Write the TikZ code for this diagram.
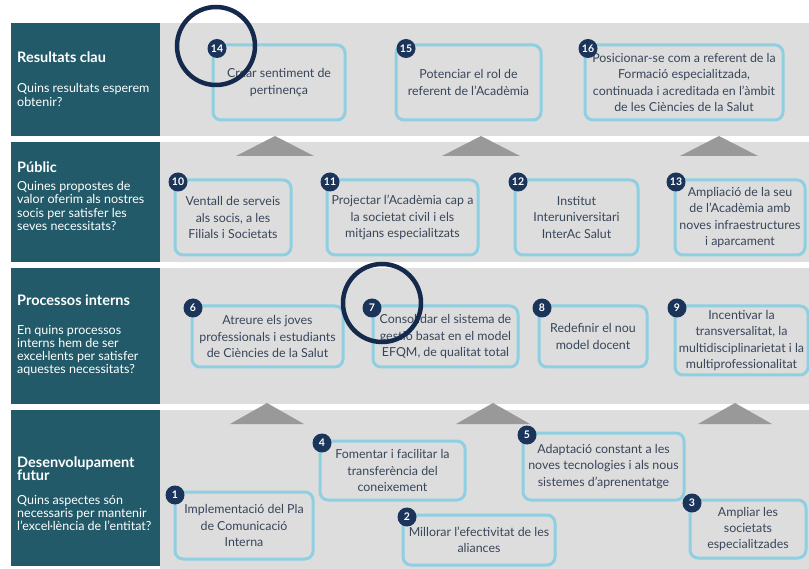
\documentclass[tikz,border=0pt]{standalone}
\usepackage{fontspec}
\setmainfont{Lato}
\usepackage{xcolor}
\definecolor{panelteal}{HTML}{225A69}
\definecolor{bandgrey}{HTML}{DDDDDD}
\definecolor{arrowgrey}{HTML}{999999}
\definecolor{boxblue}{HTML}{8FCFE2}
\definecolor{badgenavy}{HTML}{1B3459}
\definecolor{ringnavy}{HTML}{15294C}
\definecolor{textslate}{HTML}{38465A}
\usepackage{tikz}
\usetikzlibrary{positioning}

\tikzset{
  goal/.style={draw=boxblue, line width=3pt, rounded corners=8pt, fill=bandgrey, align=center,
    text=textslate, font=\fontsize{12.4}{16.3}\selectfont, inner sep=0pt},
  badge/.style={circle, fill=badgenavy, text=white, font=\bfseries\fontsize{10.5}{10.5}\selectfont,
    minimum size=19pt, inner sep=0pt},
  ring/.style={circle, draw=ringnavy, line width=4.5pt, minimum size=78pt, inner sep=0pt},
  heading/.style={anchor=west, align=left, text=white, font=\bfseries\fontsize{14.5}{13.5}\selectfont, inner sep=0pt},
  question/.style={anchor=west, align=left, text=white, font=\fontsize{12.5}{13.2}\selectfont, inner sep=0pt}
}

\begin{document}
\begin{tikzpicture}[x=1pt, y=-1pt]
        \useasboundingbox (0,0) rectangle (809,569);
        % Bands
        \fill[bandgrey] (160,23) rectangle (809,136);
        \fill[bandgrey] (160,142) rectangle (809,262);
        \fill[bandgrey] (160,268) rectangle (809,404);
        \fill[bandgrey] (160,410) rectangle (809,569);
        \fill[panelteal] (11,23) rectangle (160,136);
        \fill[panelteal] (11,142) rectangle (160,262);
        \fill[panelteal] (11,268) rectangle (160,404);
        \fill[panelteal] (11,410) rectangle (160,566);
        % Level arrows
        \fill[arrowgrey] (236,156) -- (275,136) -- (314,156) -- cycle;
        \fill[arrowgrey] (442,156) -- (481,136) -- (520,156) -- cycle;
        \fill[arrowgrey] (680,156) -- (719,136) -- (758,156) -- cycle;
        \fill[arrowgrey] (230,424) -- (267,403) -- (304,424) -- cycle;
        \fill[arrowgrey] (456,424) -- (493,403) -- (530,424) -- cycle;
        \fill[arrowgrey] (698,424) -- (735,403) -- (772,424) -- cycle;
        % Panel labels
        \node[heading] (resTitle) at (17,57) {Resultats clau};
        \node[question] (resQ) at (17,95) {Quins resultats esperem\\obtenir?};
        \node[heading] (pubTitle) at (17,167) {Públic};
        \node[question] (pubQ) at (17,206) {Quines propostes de\\valor oferim als nostres\\socis per satisfer les\\seves necessitats?};
        \node[heading] (procTitle) at (17,300) {Processos interns};
        \node[question] (procQ) at (17,350.5) {En quins processos\\interns hem de ser\\excel·lents per satisfer\\aquestes necessitats?};
        \node[heading] (devTitle) at (17,468.5) {Desenvolupament\\futur};
        \node[question] (devQ) at (17,513) {Quins aspectes són\\necessaris per mantenir\\l’excel·lència de l’entitat?};
        % Resultats clau
        \node[goal, minimum width=132pt, minimum height=75pt] (goal14) at (279,82.5) {Crear sentiment de\\pertinença};
        \node[goal, minimum width=145pt, minimum height=75pt] (goal15) at (468.5,82.5) {Potenciar el rol de\\referent de l’Acadèmia};
        \node[goal, minimum width=198pt, minimum height=75pt] (goal16) at (684,82.5) {Posicionar-se com a referent de la\\Formació especialitzada,\\continuada i acreditada en l’àmbit\\de les Ciències de la Salut};
        % Public
        \node[goal, minimum width=116pt, minimum height=75pt] (goal10) at (233,217.5) {Ventall de serveis\\als socis, a les\\Filials i Societats};
        \node[goal, minimum width=151pt, minimum height=75pt] (goal11) at (402.5,217.5) {Projectar l'Acadèmia cap a\\la societat civil i els\\mitjans especialitzats};
        \node[goal, minimum width=123pt, minimum height=75pt] (goal12) at (576.5,217.5) {Institut\\Interuniversitari\\InterAc Salut};
        \node[goal, minimum width=130pt, minimum height=75pt] (goal13) at (740,217.5) {Ampliació de la seu\\de l'Acadèmia amb\\noves infraestructures\\i aparcament};
        % Processos interns
        \node[goal, minimum width=151pt, minimum height=61pt] (goal6) at (267.5,336.5) {Atreure els joves\\professionals i estudiants\\de Ciències de la Salut};
        \node[goal, minimum width=145pt, minimum height=61pt] (goal7) at (445.5,336.5) {Consolidar el sistema de\\gestió basat en el model\\EFQM, de qualitat total};
        \node[goal, minimum width=108pt, minimum height=61pt] (goal8) at (593,336.5) {Redefinir el nou\\model docent};
        \node[goal, minimum width=133pt, minimum height=69pt] (goal9) at (741.5,340.5) {Incentivar la\\transversalitat, la\\multidisciplinarietat i la\\multiprofessionalitat};
        % Desenvolupament futur
        \node[goal, minimum width=138pt, minimum height=67pt] (goal1) at (244,525.5) {Implementació del Pla\\de Comunicació\\Interna};
        \node[goal, minimum width=145pt, minimum height=59pt] (goal4) at (392.5,470.5) {Fomentar i facilitar la\\transferència del\\coneixement};
        \node[goal, minimum width=152pt, minimum height=50pt] (goal2) at (479,540) {Millorar l’efectivitat de les\\aliances};
        \node[goal, minimum width=161pt, minimum height=67pt] (goal5) at (603.5,466.5) {Adaptació constant a les\\noves tecnologies i als nous\\sistemes d’aprenentatge};
        \node[goal, minimum width=116pt, minimum height=58pt] (goal3) at (748,529) {Ampliar les\\societats\\especialitzades};
        % Numbers
        \node[badge] (num14) at (217,48.5) {14};
        \node[badge] (num15) at (406,48.5) {15};
        \node[badge] (num16) at (588,48.5) {16};
        \node[badge] (num10) at (178,182) {10};
        \node[badge] (num11) at (330,182) {11};
        \node[badge] (num12) at (518,182) {12};
        \node[badge] (num13) at (676,182) {13};
        \node[badge] (num6) at (193,308) {6};
        \node[badge] (num7) at (372,308) {7};
        \node[badge] (num8) at (542,308) {8};
        \node[badge] (num9) at (677,308) {9};
        \node[badge] (num1) at (175,495) {1};
        \node[badge] (num4) at (322,443) {4};
        \node[badge] (num2) at (407,517) {2};
        \node[badge] (num5) at (527,435) {5};
        \node[badge] (num3) at (692,503) {3};
        % Highlight rings
        \node[ring] (ring14) at (216,46) {};
        \node[ring] (ring7) at (382,303) {};
\end{tikzpicture}
\end{document}
